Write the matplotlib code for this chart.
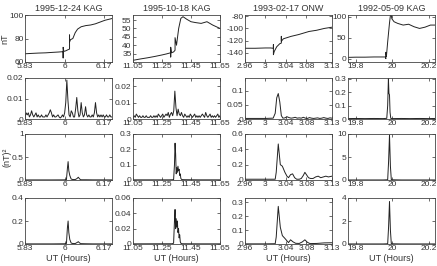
import numpy as np
import matplotlib.pyplot as plt

plt.rcParams['font.family'] = ['Liberation Sans', 'DejaVu Sans']
plt.rcParams['font.size'] = 6

titles = ['1995-12-24 KAG', '1995-10-18 KAG', '1993-02-17 ONW', '1992-05-09 KAG']

# x ranges (UT hours) and tick positions per column
xlims = [(5.8333, 6.2), (11.05, 11.65), (2.96, 3.13), (19.757, 20.235)]
xticks = [[5.8333, 6.0, 6.1667], [11.05, 11.25, 11.45, 11.65],
          [2.96, 3.0, 3.04, 3.08, 3.13], [19.8, 20.0, 20.2]]
xticklabels = [['5.83', '6', '6.17'], ['11.05', '11.25', '11.45', '11.65'],
               ['2.96', '3', '3.04', '3.08', '3.13'], ['19.8', '20', '20.2']]

# row 1: magnetic field (nT)
t_b1 = [5.8333, 5.86, 5.89, 5.92, 5.95, 5.975, 5.994, 5.994, 5.994, 5.997, 6.005, 6.015,
        6.021, 6.021, 6.021, 6.025, 6.035, 6.045, 6.055, 6.07, 6.09, 6.11, 6.13, 6.15, 6.17, 6.2]
b1 = [67, 67.3, 67.6, 67.8, 68.2, 68.5, 68.8, 63.5, 72.5, 69, 69.5, 70.5,
      71, 83, 77, 79, 80, 85, 88, 90, 91, 91.5, 92.5, 94, 95.5, 97]
t_b2 = [11.05, 11.1, 11.15, 11.2, 11.25, 11.28, 11.31, 11.31, 11.31, 11.315, 11.33, 11.34,
        11.34, 11.34, 11.35, 11.365, 11.38, 11.395, 11.42, 11.45, 11.48, 11.52, 11.56, 11.6, 11.65]
b2 = [31, 31.8, 32.5, 33.3, 34.2, 34.8, 35.5, 33, 38.8, 35.5, 36, 37,
      37, 44.5, 40, 50, 56, 57, 55.5, 54, 53.5, 53, 54, 52, 50]
t_b3 = [2.96, 2.98, 3.0, 3.01, 3.0155, 3.0155, 3.0155, 3.017, 3.022, 3.028, 3.031, 3.031,
        3.031, 3.035, 3.05, 3.065, 3.085, 3.1, 3.115, 3.13]
b3 = [-132.5, -132.5, -132, -132, -132.5, -126.5, -143, -138, -130, -125, -124, -113,
      -121, -117, -113, -110, -105, -103, -100, -98]
t_b4 = [19.757, 19.8, 19.85, 19.9, 19.94, 19.962, 19.965, 19.965, 19.968, 19.975, 19.985,
        19.992, 19.998, 20.01, 20.03, 20.06, 20.09, 20.12, 20.15, 20.18, 20.21, 20.235]
b4 = [3, 3.5, 3.5, 4, 4, 4, 0, 15, 5, 40, 85, 110, 95, 88, 84, 80, 82, 76, 72, 75, 80, 80]

# row 2: power (nT)^2, 80 samples per event
p1 = [0.001, 0.003, 0.002, 0.003, 0.001, 0.002, 0.004, 0.002, 0.001, 0.002,
      0.003, 0.001, 0.002, 0.001, 0.001, 0.002, 0.001, 0.001, 0.001, 0.002,
      0.001, 0.002, 0.003, 0.0045, 0.003, 0.001, 0.002, 0.001, 0.001, 0.0015,
      0.002, 0.001, 0.0005, 0.001, 0.002, 0.001, 0.003, 0.008, 0.019, 0.009,
      0.002, 0.001, 0.004, 0.003, 0.001, 0.001, 0.005, 0.0105, 0.004, 0.001,
      0.002, 0.008, 0.003, 0.001, 0.002, 0.006, 0.002, 0.001, 0.002, 0.001,
      0.001, 0.002, 0.001, 0.003, 0.008, 0.003, 0.001, 0.002, 0.001, 0.002,
      0.001, 0.002, 0.001, 0.001, 0.002, 0.001, 0.001, 0.002, 0.001, 0.001]
p2 = [0.001, 0.002, 0.001, 0.003, 0.002, 0.001, 0.002, 0.001, 0.001, 0.002,
      0.001, 0.001, 0.002, 0.001, 0.001, 0.001, 0.002, 0.001, 0.001, 0.002,
      0.001, 0.002, 0.001, 0.003, 0.002, 0.001, 0.002, 0.003, 0.001, 0.002,
      0.003, 0.002, 0.004, 0.001, 0.003, 0.004, 0.002, 0.005, 0.017, 0.007,
      0.002, 0.006, 0.003, 0.002, 0.004, 0.002, 0.001, 0.003, 0.002, 0.001,
      0.002, 0.001, 0.003, 0.002, 0.001, 0.002, 0.003, 0.001, 0.002, 0.001,
      0.002, 0.001, 0.002, 0.003, 0.002, 0.001, 0.004, 0.002, 0.001, 0.002,
      0.003, 0.001, 0.002, 0.001, 0.002, 0.001, 0.002, 0.003, 0.001, 0.002]
t_p3 = [2.96, 3.0, 3.015, 3.019, 3.022, 3.025, 3.028, 3.031, 3.034, 3.038, 3.042, 3.046,
        3.05, 3.054, 3.058, 3.062, 3.066, 3.07, 3.074, 3.078, 3.082, 3.086, 3.09, 3.094,
        3.098, 3.102, 3.106, 3.11, 3.114, 3.118, 3.122, 3.126, 3.13]
p3 = [0.002, 0.002, 0.003, 0.02, 0.075, 0.09, 0.06, 0.012, 0.003, 0.004, 0.008, 0.005,
      0.003, 0.004, 0.006, 0.003, 0.004, 0.003, 0.006, 0.003, 0.002, 0.005, 0.003, 0.002,
      0.003, 0.004, 0.002, 0.003, 0.005, 0.003, 0.002, 0.004, 0.003]
t_p4 = [19.757, 19.8, 19.85, 19.9, 19.95, 19.97, 19.975, 19.979, 19.982, 19.985, 19.988,
        19.992, 20.0, 20.05, 20.1, 20.15, 20.2, 20.235]
p4 = [0.003, 0.004, 0.003, 0.004, 0.003, 0.005, 0.1, 0.3, 0.19, 0.18, 0.05,
      0.005, 0.003, 0.004, 0.003, 0.004, 0.003, 0.004]

# row 3: power (nT)^2
t_q1 = [5.8333, 5.95, 6.0, 6.008, 6.012, 6.015, 6.018, 6.022, 6.028, 6.035, 6.045, 6.052,
        6.058, 6.064, 6.07, 6.09, 6.12, 6.15, 6.2]
q1 = [0.002, 0.002, 0.003, 0.01, 0.25, 0.4, 0.2, 0.1, 0.02, 0.01, 0.01, 0.03,
      0.06, 0.02, 0.005, 0.005, 0.003, 0.003, 0.002]
t_q2 = [11.05, 11.3, 11.33, 11.336, 11.34, 11.344, 11.348, 11.352, 11.356, 11.36, 11.364,
        11.368, 11.372, 11.376, 11.38, 11.386, 11.4, 11.5, 11.65]
q2 = [0.001, 0.001, 0.002, 0.1, 0.24, 0.17, 0.04, 0.08, 0.05, 0.09, 0.06,
      0.07, 0.03, 0.04, 0.01, 0.003, 0.002, 0.001, 0.001]
t_q3 = [2.96, 3.0, 3.019, 3.021, 3.025, 3.029, 3.033, 3.038, 3.042, 3.045, 3.049, 3.053,
        3.057, 3.061, 3.066, 3.07, 3.074, 3.077, 3.08, 3.084, 3.088, 3.093, 3.098, 3.103,
        3.108, 3.113, 3.118, 3.123, 3.13]
q3 = [0.01, 0.01, 0.01, 0.1, 0.47, 0.2, 0.18, 0.1, 0.05, 0.03, 0.07, 0.08,
      0.03, 0.01, 0.01, 0.02, 0.06, 0.1, 0.07, 0.03, 0.02, 0.02, 0.04, 0.05,
      0.03, 0.04, 0.05, 0.04, 0.05]
t_q4 = [19.757, 19.95, 19.975, 19.98, 19.985, 19.99, 19.995, 20.05, 20.235]
q4 = [0.01, 0.01, 0.05, 4.0, 9.8, 3.0, 0.05, 0.01, 0.01]

# row 4: power (nT)^2
r1 = [0.001, 0.001, 0.002, 0.005, 0.14, 0.2, 0.1, 0.04, 0.008, 0.004, 0.004, 0.012,
      0.02, 0.008, 0.003, 0.002, 0.001, 0.001, 0.001]
t_r2 = [11.05, 11.32, 11.33, 11.336, 11.34, 11.344, 11.348, 11.352, 11.356, 11.36, 11.364,
        11.368, 11.372, 11.376, 11.38, 11.39, 11.5, 11.65]
r2 = [0.0002, 0.0003, 0.001, 0.03, 0.045, 0.02, 0.033, 0.022, 0.03, 0.015, 0.02,
      0.008, 0.012, 0.003, 0.001, 0.0003, 0.0002, 0.0002]
t_r3 = [2.96, 3.0, 3.019, 3.021, 3.025, 3.029, 3.033, 3.038, 3.045, 3.049, 3.054, 3.059,
        3.066, 3.072, 3.077, 3.082, 3.087, 3.1, 3.115, 3.13]
r3 = [0.001, 0.001, 0.002, 0.05, 0.27, 0.12, 0.06, 0.04, 0.01, 0.03, 0.015, 0.005,
      0.004, 0.015, 0.03, 0.012, 0.003, 0.004, 0.008, 0.009]
r4 = [0.005, 0.005, 0.02, 1.5, 3.7, 1.2, 0.02, 0.005, 0.005]

series = [
    [(t_b1, b1), (t_b2, b2), (t_b3, b3), (t_b4, b4)],
    [(np.linspace(5.8333, 6.2, 80), p1), (np.linspace(11.05, 11.65, 80), p2), (t_p3, p3), (t_p4, p4)],
    [(t_q1, q1), (t_q2, q2), (t_q3, q3), (t_q4, q4)],
    [(t_q1, r1), (t_r2, r2), (t_r3, r3), (t_q4, r4)],
]
ylims = [
    [(60, 100), (30, 58), (-155, -78), (-8, 104)],
    [(0, 0.02), (0, 0.025), (0, 0.145), (0, 0.305)],
    [(0, 1), (0, 0.3), (0, 0.6), (0, 10)],
    [(0, 0.4), (0, 0.06), (0, 0.33), (0, 4)],
]
yticks = [
    [[60, 80, 100], [35, 40, 45, 50, 55], [-140, -120, -100, -80], [0, 50, 100]],
    [[0, 0.01, 0.02], [0, 0.01, 0.02], [0, 0.05, 0.1], [0, 0.1, 0.2, 0.3]],
    [[0, 0.5, 1], [0, 0.1, 0.2, 0.3], [0, 0.2, 0.4, 0.6], [0, 5, 10]],
    [[0, 0.2, 0.4], [0, 0.02, 0.04, 0.06], [0, 0.1, 0.2, 0.3], [0, 2, 4]],
]

W, H = 437, 266
lefts = [25, 133, 245, 348]
tops = [15, 78, 134, 198]
heights = [47, 41, 46, 46]
width = 87
txt = '#333333'

fig = plt.figure(figsize=(W / 100, H / 100), dpi=100)
for i in range(4):
    for j in range(4):
        ax = fig.add_axes([lefts[j] / W, 1 - (tops[i] + heights[i]) / H,
                           width / W, heights[i] / H])
        t, v = series[i][j]
        ax.plot(t, v, color='#222222', lw=0.7)
        ax.set_xlim(xlims[j])
        ax.set_ylim(ylims[i][j])
        ax.set_xticks(xticks[j])
        ax.set_xticklabels(xticklabels[j])
        ax.set_yticks(yticks[i][j])
        ax.set_yticklabels([f'{y:g}' for y in yticks[i][j]])
        ax.tick_params(direction='in', length=2, width=0.5, top=True, right=True,
                       pad=1, labelsize=6, colors=txt)
        for s in ax.spines.values():
            s.set_linewidth(0.6)
            s.set_color('#444444')
        if i == 0:
            ax.set_title(titles[j], fontsize=6.5, pad=3, color=txt)
        if i == 3:
            ax.set_xlabel('UT (Hours)', fontsize=6.5, labelpad=1, color=txt)
        if i == 0 and j == 0:
            ax.set_ylabel('nT', fontsize=6.5, color=txt)
            ax.yaxis.set_label_coords(-16 / width, 0.5)
        if i == 2 and j == 0:
            ax.set_ylabel('(nT)²', fontsize=6.5, color=txt)
            ax.yaxis.set_label_coords(-14 / width, 0.5)

fig.savefig('out.png', dpi=100)
